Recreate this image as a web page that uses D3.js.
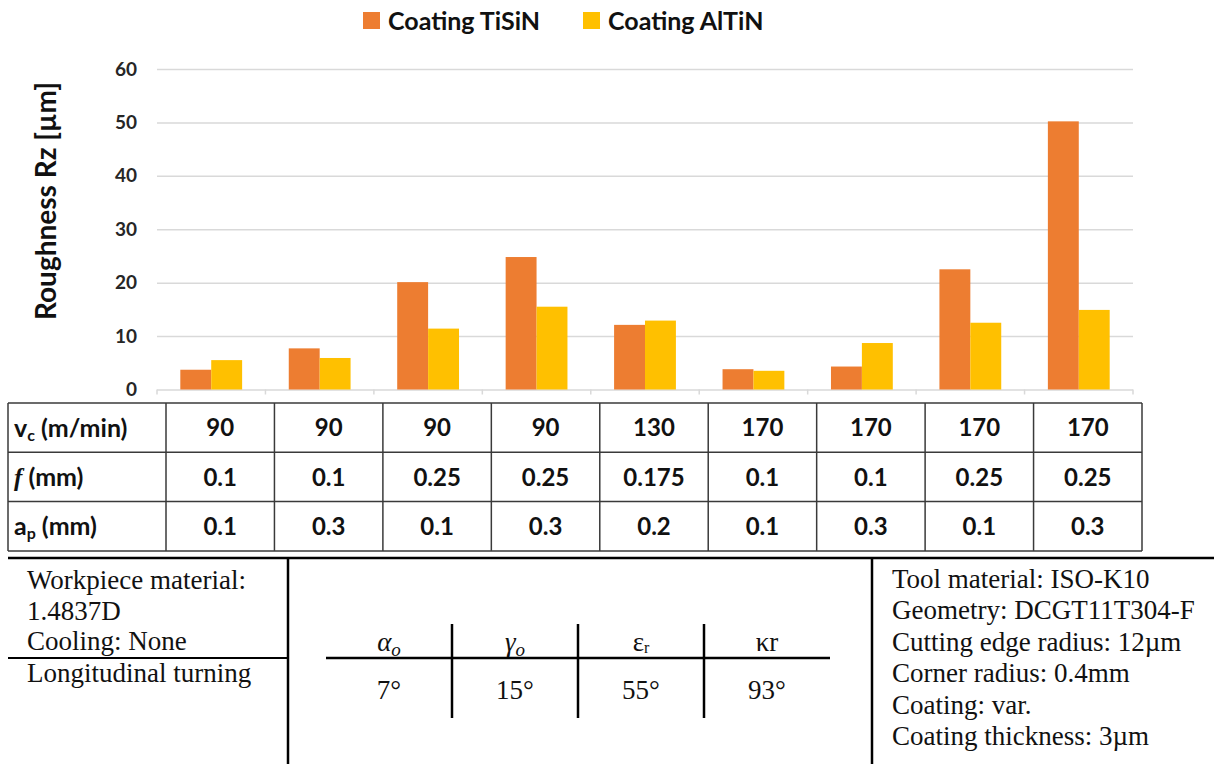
<!DOCTYPE html>
<html>
<head>
<meta charset="utf-8">
<script src="https://cdn.jsdelivr.net/npm/d3@7"></script>
<style>
  body { margin: 0; background: #fff; }
  svg { display: block; }
  .tick text { font-family: Lato, sans-serif; font-weight: bold; font-size: 19px; fill: #262626; }
  .serif { font-family: "Liberation Serif", "Times New Roman", serif; font-size: 27px; fill: #111; }
  .cell { font-family: Lato, sans-serif; font-weight: bold; font-size: 24px; fill: #111; }
</style>
</head>
<body>
<svg width="1214" height="764"></svg>
<script>
// data
const runs = ['1', '2', '3', '4', '5', '6', '7', '8', '9'];
const tisin = [3.7, 7.7, 20.1, 24.8, 12.1, 3.8, 4.3, 22.5, 50.2];
const altin = [5.5, 5.9, 11.4, 15.5, 12.9, 3.5, 8.7, 12.5, 14.9];
const seriesNames = ['Coating TiSiN', 'Coating AlTiN'];
const seriesColors = ['#ed7d31', '#ffc000'];
const yTicks = [0, 10, 20, 30, 40, 50, 60];

const vc = ['90', '90', '90', '90', '130', '170', '170', '170', '170'];
const feed = ['0.1', '0.1', '0.25', '0.25', '0.175', '0.1', '0.1', '0.25', '0.25'];
const ap = ['0.1', '0.3', '0.1', '0.3', '0.2', '0.1', '0.3', '0.1', '0.3'];

const leftLinesTop = ['Workpiece material:', '1.4837D', 'Cooling: None'];
const leftLinesBottom = ['Longitudinal turning'];
const rightLines = ['Tool material: ISO-K10', 'Geometry: DCGT11T304-F', 'Cutting edge radius: 12\u00b5m',
  'Corner radius: 0.4mm', 'Coating: var.', 'Coating thickness: 3\u00b5m'];
const angleValues = ['7\u00b0', '15\u00b0', '55\u00b0', '93\u00b0'];

const svg = d3.select('svg');
const width = +svg.attr('width');

// ---- bar chart ----
const plot = { left: 157, right: 1133, top: 69, bottom: 389.5 };

const xScale = d3.scaleBand().domain(runs).range([plot.left, plot.right]);
const yScale = d3.scaleLinear().domain([0, 60]).range([plot.bottom, plot.top]);
const gap = xScale.bandwidth() * 0.215;
const xSub = d3.scaleBand().domain(seriesNames)
  .range([gap, xScale.bandwidth() - gap]);

const yAxisG = svg.append('g')
  .attr('transform', `translate(${plot.left},0)`)
  .call(d3.axisLeft(yScale).tickValues(yTicks).tickSize(-(plot.right - plot.left)).tickPadding(20));
yAxisG.select('.domain').remove();
yAxisG.selectAll('.tick line').attr('stroke', '#d9d9d9').attr('stroke-width', 1.5);

// category axis line with boundary ticks
const bounds = runs.map(r => xScale(r)).concat([plot.right]);
svg.append('g').selectAll('line').data(bounds).enter().append('line')
  .attr('x1', d => d).attr('x2', d => d)
  .attr('y1', plot.bottom).attr('y2', plot.bottom + 5)
  .attr('stroke', '#d9d9d9').attr('stroke-width', 1.5);

const rows = runs.map((r, i) => ({ run: r, values: [tisin[i], altin[i]] }));
const groups = svg.append('g').selectAll('g').data(rows).enter().append('g')
  .attr('transform', d => `translate(${xScale(d.run)},0)`);
groups.selectAll('rect').data(d => d.values.map((v, j) => ({ v, s: seriesNames[j], c: seriesColors[j] })))
  .enter().append('rect')
  .attr('x', d => xSub(d.s))
  .attr('width', xSub.bandwidth())
  .attr('y', d => yScale(d.v))
  .attr('height', d => yScale(0) - yScale(d.v))
  .attr('fill', d => d.c);

// y axis title
svg.append('text')
  .attr('transform', `translate(56,201) rotate(-90)`)
  .attr('text-anchor', 'middle')
  .attr('font-family', 'Lato, sans-serif')
  .attr('font-weight', 'bold')
  .attr('font-size', 28)
  .attr('fill', '#111')
  .text('Roughness Rz [\u00b5m]');

// legend
const legendX = [363, 583];
const legend = svg.append('g').selectAll('g').data(seriesNames).enter().append('g')
  .attr('transform', (d, i) => `translate(${legendX[i]},12)`);
legend.append('rect').attr('width', 17).attr('height', 17).attr('fill', (d, i) => seriesColors[i]);
legend.append('text')
  .attr('x', 25).attr('y', 8.5).attr('dy', '0.36em')
  .attr('font-family', 'Lato, sans-serif').attr('font-weight', 'bold').attr('font-size', 25)
  .attr('fill', '#111')
  .text(d => d);

// ---- parameter table ----
const tbl = { left: 8, first: 166, right: 1142, top: 403, rowH: 49.3 };
const colScale = d3.scaleBand().domain(runs).range([tbl.first, tbl.right]);
const tableRows = [vc, feed, ap];
const tG = svg.append('g');
const lineColor = '#3a3a3a';

// horizontal lines
d3.range(tableRows.length + 1).forEach(i => {
  tG.append('line')
    .attr('x1', tbl.left).attr('x2', tbl.right)
    .attr('y1', tbl.top + i * tbl.rowH).attr('y2', tbl.top + i * tbl.rowH)
    .attr('stroke', lineColor).attr('stroke-width', 1.5);
});
// vertical lines
[tbl.left].concat(runs.map(r => colScale(r)), [tbl.right]).forEach(x => {
  tG.append('line')
    .attr('x1', x).attr('x2', x)
    .attr('y1', tbl.top).attr('y2', tbl.top + tableRows.length * tbl.rowH)
    .attr('stroke', lineColor).attr('stroke-width', 1.5);
});

tableRows.forEach((vals, i) => {
  tG.selectAll(null).data(vals).enter().append('text')
    .attr('class', 'cell')
    .attr('x', (d, j) => colScale(runs[j]) + colScale.bandwidth() / 2)
    .attr('y', tbl.top + (i + 0.5) * tbl.rowH)
    .attr('dy', '0.36em')
    .attr('text-anchor', 'middle')
    .text(d => d);
});

// row labels with sub/italic parts
const rowLabel = (i) => tG.append('text').attr('class', 'cell').attr('font-size', 25)
  .style('font-size', '25px')
  .attr('x', 14).attr('y', tbl.top + (i + 0.5) * tbl.rowH).attr('dy', '0.36em');
let lab = rowLabel(0);
lab.append('tspan').text('v');
lab.append('tspan').style('font-size', '16px').attr('dy', 4).text('c');
lab.append('tspan').attr('dy', -4).text(' (m/min)');
lab = rowLabel(1);
lab.append('tspan').attr('font-style', 'italic').attr('font-family', '"Liberation Serif", serif').text('f');
lab.append('tspan').text(' (mm)');
lab = rowLabel(2);
lab.append('tspan').text('a');
lab.append('tspan').style('font-size', '16px').attr('dy', 4).text('p');
lab.append('tspan').attr('dy', -4).text(' (mm)');

// ---- machining conditions box ----
const bG = svg.append('g');
const boxTop = 558;
bG.append('line').attr('x1', 8).attr('x2', width).attr('y1', boxTop).attr('y2', boxTop)
  .attr('stroke', '#000').attr('stroke-width', 2.5);
[288, 872].forEach(x => {
  bG.append('line').attr('x1', x).attr('x2', x).attr('y1', boxTop).attr('y2', 764)
    .attr('stroke', '#000').attr('stroke-width', 2.5);
});
bG.append('line').attr('x1', 8).attr('x2', 288).attr('y1', 658).attr('y2', 658)
  .attr('stroke', '#000').attr('stroke-width', 2);

bG.selectAll(null).data(leftLinesTop).enter().append('text')
  .attr('class', 'serif').attr('x', 27).attr('y', (d, i) => 589 + i * 30.7).text(d => d);
bG.selectAll(null).data(leftLinesBottom).enter().append('text')
  .attr('class', 'serif').attr('x', 27).attr('y', (d, i) => 682 + i * 30.7).text(d => d);
bG.selectAll(null).data(rightLines).enter().append('text')
  .attr('class', 'serif').attr('x', 892).attr('y', (d, i) => 588 + i * 31.4).text(d => d);

// angle table
const angX = d3.scaleBand().domain(d3.range(angleValues.length)).range([326, 830]);
bG.append('line').attr('x1', 326).attr('x2', 830).attr('y1', 658).attr('y2', 658)
  .attr('stroke', '#000').attr('stroke-width', 2.5);
d3.range(1, angleValues.length).forEach(i => {
  bG.append('line').attr('x1', angX(i)).attr('x2', angX(i)).attr('y1', 624).attr('y2', 718)
    .attr('stroke', '#000').attr('stroke-width', 2.5);
});
const headY = 651;
const head = (i) => bG.append('text').attr('class', 'serif')
  .attr('x', angX(i) + angX.bandwidth() / 2).attr('y', headY).attr('text-anchor', 'middle');
let h = head(0);
h.append('tspan').attr('font-style', 'italic').text('\u03b1');
h.append('tspan').attr('font-style', 'italic').style('font-size', '19px').attr('dy', 5).text('o');
h = head(1);
h.append('tspan').attr('font-style', 'italic').text('\u03b3');
h.append('tspan').attr('font-style', 'italic').style('font-size', '19px').attr('dy', 5).text('o');
h = head(2);
h.append('tspan').text('\u03b5');
h.append('tspan').style('font-size', '16px').attr('dy', 2).text('r');
h = head(3);
h.append('tspan').text('\u03bar');

bG.selectAll(null).data(angleValues).enter().append('text')
  .attr('class', 'serif')
  .attr('x', (d, i) => angX(i) + angX.bandwidth() / 2)
  .attr('y', 699)
  .attr('text-anchor', 'middle')
  .text(d => d);
</script>
</body>
</html>
